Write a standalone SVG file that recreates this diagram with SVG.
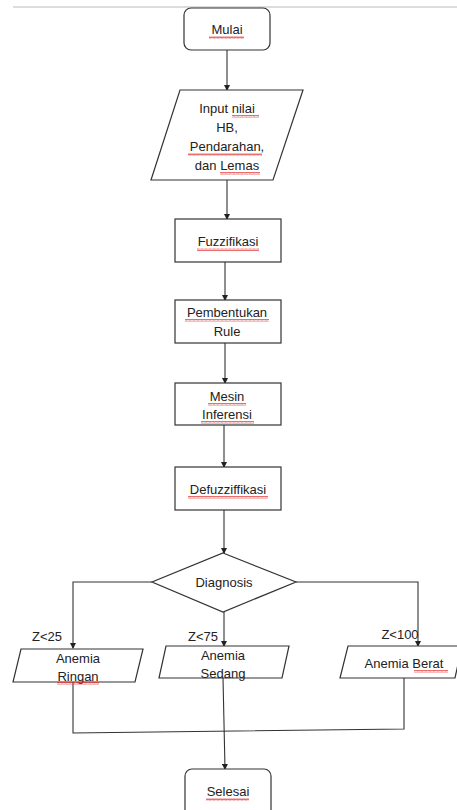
<svg xmlns="http://www.w3.org/2000/svg" width="457" height="810" viewBox="0 0 457 810">
<defs>
<marker id="ah" markerWidth="6" markerHeight="6" refX="5" refY="3" orient="auto" markerUnits="userSpaceOnUse">
<path d="M0,0 L6,3 L0,6 Z" fill="#222"/>
</marker>
<pattern id="sq" width="4" height="3" patternUnits="userSpaceOnUse">
<path d="M0,2.5 L1,0.5 L2,2.5 L3,0.5 L4,2.5" fill="none" stroke="#e03030" stroke-width="0.7"/>
</pattern>
</defs>
<style>
.shape{fill:#fff;stroke:#333;stroke-width:1.2}
.conn{fill:none;stroke:#333;stroke-width:1.1}
text{font-family:"Liberation Sans",Arial,sans-serif;font-size:13px;fill:#222;text-anchor:middle}
.sq{fill:url(#sq)}
</style>
<rect width="457" height="810" fill="#fff"/>
<line x1="13" y1="7" x2="457" y2="7" stroke="#d0d0d0" stroke-width="1.5"/>

<g id="connectors">
<line class="conn" x1="227" y1="50" x2="227" y2="90" marker-end="url(#ah)"/>
<line class="conn" x1="227" y1="180" x2="227" y2="219" marker-end="url(#ah)"/>
<line class="conn" x1="225" y1="262" x2="225" y2="300" marker-end="url(#ah)"/>
<line class="conn" x1="225" y1="343" x2="225" y2="383" marker-end="url(#ah)"/>
<line class="conn" x1="224" y1="425" x2="224" y2="467" marker-end="url(#ah)"/>
<line class="conn" x1="224" y1="510" x2="224" y2="553" marker-end="url(#ah)"/>
<polyline class="conn" points="152,582 73,582 73,648" marker-end="url(#ah)"/>
<line class="conn" x1="224" y1="612" x2="224" y2="646" marker-end="url(#ah)"/>
<polyline class="conn" points="296,582 418,582 418,646" marker-end="url(#ah)"/>
<polyline class="conn" points="73,682 73,733 404,729 404,678"/>
<line class="conn" x1="223" y1="678" x2="225" y2="769" marker-end="url(#ah)"/>
<text x="47" y="641">Z&lt;25</text>
<text x="203" y="641">Z&lt;75</text>
<text x="400" y="639">Z&lt;100</text>
</g>

<g id="mulai">
<rect class="shape" x="184" y="8" width="86" height="42" rx="7"/>
<text x="227" y="34">Mulai</text>
<rect class="sq" x="209" y="36" width="35" height="3"/>
</g>

<g id="input">
<polygon class="shape" points="180,90 303,90 273,180 151,180"/>
<text x="227" y="113">Input nilai</text>
<text x="227" y="132">HB,</text>
<text x="227" y="151">Pendarahan,</text>
<text x="227" y="170">dan Lemas</text>
<rect class="sq" x="232" y="115" width="27" height="3"/>
<rect class="sq" x="188" y="153" width="74" height="3"/>
<rect class="sq" x="220" y="172" width="40" height="3"/>
</g>

<g id="fuzzifikasi">
<rect class="shape" x="175" y="219" width="106" height="43"/>
<text x="228" y="246">Fuzzifikasi</text>
<rect class="sq" x="197" y="248" width="62" height="3"/>
</g>

<g id="rule">
<rect class="shape" x="175" y="300" width="106" height="43"/>
<text x="227" y="317">Pembentukan</text>
<text x="227" y="336">Rule</text>
<rect class="sq" x="185" y="319" width="84" height="3"/>
</g>

<g id="inferensi">
<rect class="shape" x="175" y="383" width="106" height="42"/>
<text x="227" y="401">Mesin</text>
<text x="227" y="419">Inferensi</text>
<rect class="sq" x="208" y="403" width="38" height="3"/>
<rect class="sq" x="201" y="421" width="53" height="3"/>
</g>

<g id="defuzzifikasi">
<rect class="shape" x="175" y="467" width="106" height="43"/>
<text x="228" y="494">Defuzziffikasi</text>
<rect class="sq" x="188" y="496" width="80" height="3"/>
</g>

<g id="diagnosis">
<polygon class="shape" points="223,553 296,582 223,612 152,582"/>
<text x="224" y="587">Diagnosis</text>
</g>

<g id="ringan">
<polygon class="shape" points="21,649 143,649 135,682 13,682"/>
<text x="78" y="663">Anemia</text>
<text x="78" y="681">Ringan</text>
<rect class="sq" x="57" y="682" width="42" height="3"/>
</g>

<g id="sedang">
<polygon class="shape" points="166,646 289,646 282,678 159,678"/>
<text x="223" y="660">Anemia</text>
<text x="223" y="678">Sedang</text>
</g>

<g id="berat">
<polygon class="shape" points="348,646 462,646 455,678 340,678"/>
<text x="404" y="668">Anemia Berat</text>
<rect class="sq" x="414" y="670" width="34" height="3"/>
</g>

<g id="selesai">
<rect class="shape" x="185" y="769" width="86" height="50" rx="7"/>
<text x="228" y="796">Selesai</text>
<rect class="sq" x="206" y="798" width="43" height="3"/>
</g>
</svg>
